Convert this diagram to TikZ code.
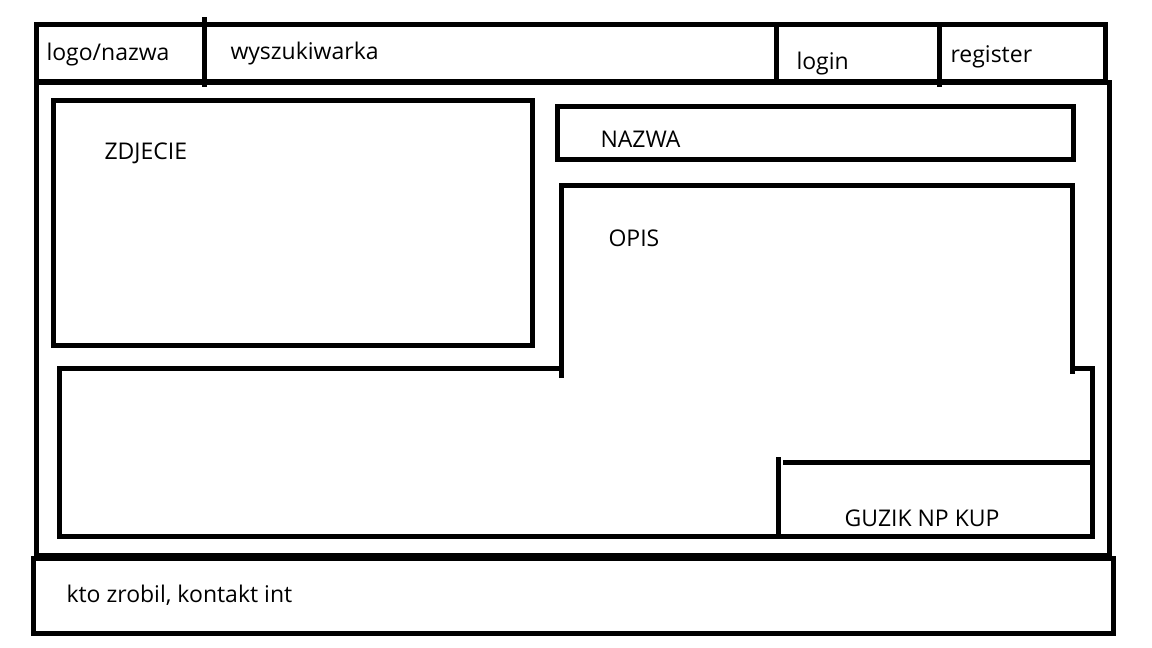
\documentclass[tikz,border=0pt]{standalone}
\usepackage{fontspec}
\setmainfont{Open Sans}
\begin{document}
\begin{tikzpicture}[x=1pt,y=-1pt,line width=5pt,line join=miter,
  lbl/.style={anchor=west,inner sep=0pt,font=\fontsize{23}{27}\selectfont}]
\useasboundingbox (0,0) rectangle (1152,648);
% header bar
\draw (36,24) rectangle (1105,81);
\draw (204,17) -- (204,87);
\draw (776,24) -- (776,81);
\draw (939,22) -- (939,87);
\node[lbl] (logo) at (44,55) {logo/nazwa};
\node[lbl] (search) at (228,54) {wyszukiwarka};
\node[lbl] (login) at (794,64) {login};
\node[lbl] (register) at (948,57) {register};
% main area
\draw (36,82) rectangle (1109,555);
% photo
\draw (53,100) rectangle (532,345);
\node[lbl] (photo) at (102,153) {ZDJECIE};
% name
\draw (557,106) rectangle (1073,159);
\node[lbl] (name) at (598,139) {NAZWA};
% description + lower box
\draw (561,378) -- (561,185) -- (1072,185) -- (1072,374);
\draw (561,368) -- (59,368) -- (59,536) -- (1092,536) -- (1092,368) -- (1070,368);
\node[lbl] (desc) at (606,238) {OPIS};
% buy button
\draw (778,457) -- (778,534);
\draw (783,462) -- (1090,462);
\node[lbl,anchor=center] (buy) at (922,518) {GUZIK NP KUP};
% footer
\draw (33,558) rectangle (1113,633);
\node[lbl] (foot) at (64,595) {kto zrobil, kontakt int};
\end{tikzpicture}
\end{document}
